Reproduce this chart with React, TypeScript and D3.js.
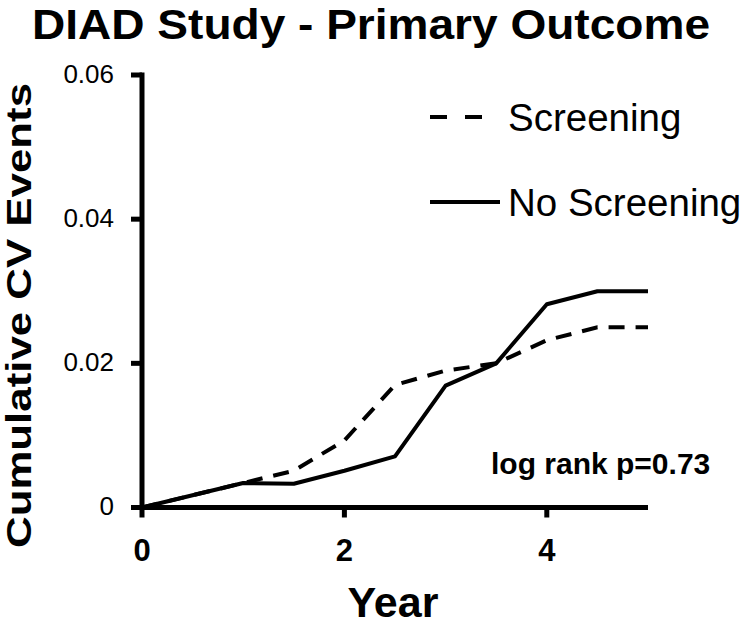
import React from 'react';
import * as d3 from 'd3';

const years = [0, 1, 1.5, 2, 2.5, 3, 3.5, 4, 4.5, 5];
const screening = [0, 0.0034, 0.0051, 0.0093, 0.017, 0.019, 0.02, 0.0232, 0.025, 0.025];
const noScreening = [0, 0.0034, 0.0033, 0.0051, 0.0071, 0.0169, 0.02, 0.0282, 0.03, 0.03];
const xTicks = [0, 2, 4];
const xTickLabels = ['0', '2', '4'];
const yTicks = [0, 0.02, 0.04, 0.06];
const yTickLabels = ['0', '0.02', '0.04', '0.06'];
const seriesNames = ['Screening', 'No Screening'];

const FONT = '"Liberation Sans", Arial, Helvetica, sans-serif';

export default function App() {
  const x = d3.scaleLinear().domain([0, 5]).range([142, 648]);
  const y = d3.scaleLinear().domain([0, 0.06]).range([507.5, 75]);
  const line = d3
    .line<number>()
    .x((_, i) => x(years[i]))
    .y((d) => y(d));

  return (
    <svg
      width={750}
      height={625}
      style={{ position: 'absolute', left: 0, top: 0, background: '#fff' }}
      fontFamily={FONT}
    >
      <rect x={0} y={0} width={750} height={625} fill="#fff" />
      <text x={32} y={38.5} fontSize={42} fontWeight="bold" textLength={678} lengthAdjust="spacingAndGlyphs">
        DIAD Study - Primary Outcome
      </text>

      {/* axes */}
      <line x1={x(0)} y1={y(0.06) - 2.5} x2={x(0)} y2={y(0) + 2.5} stroke="#000" strokeWidth={5} />
      <line x1={x(0) - 2.5} y1={y(0)} x2={x(5)} y2={y(0)} stroke="#000" strokeWidth={5} />
      {yTicks.map((t, i) => (
        <g key={'yt' + i}>
          <line x1={x(0) - 11} x2={x(0)} y1={y(t)} y2={y(t)} stroke="#000" strokeWidth={5} />
          <text x={114} y={y(t) + 7.5} fontSize={26} textAnchor="end">
            {yTickLabels[i]}
          </text>
        </g>
      ))}
      {xTicks.map((t, i) => (
        <g key={'xt' + i}>
          <line x1={x(t)} x2={x(t)} y1={y(0)} y2={y(0) + 10} stroke="#000" strokeWidth={5} />
          <text x={x(t)} y={561} fontSize={31} fontWeight="bold" textAnchor="middle">
            {xTickLabels[i]}
          </text>
        </g>
      ))}

      {/* series */}
      <path d={line(noScreening) || ''} fill="none" stroke="#000" strokeWidth={4} strokeLinejoin="round" />
      <path d={line(screening) || ''} fill="none" stroke="#000" strokeWidth={4} strokeDasharray="16,11" />

      {/* labels */}
      <text
        transform="translate(31,315.5) rotate(-90)"
        fontSize={35}
        fontWeight="bold"
        textAnchor="middle"
        textLength={465}
        lengthAdjust="spacingAndGlyphs"
      >
        Cumulative CV Events
      </text>
      <text x={393} y={617} fontSize={43} fontWeight="bold" textAnchor="middle">
        Year
      </text>
      <text x={491} y={474} fontSize={30} fontWeight="bold">
        log rank p=0.73
      </text>

      {/* legend */}
      <line x1={430} x2={483} y1={117} y2={117} stroke="#000" strokeWidth={4} strokeDasharray="17,18" />
      <text x={508} y={131} fontSize={38.5}>
        {seriesNames[0]}
      </text>
      <line x1={430} x2={500} y1={202} y2={202} stroke="#000" strokeWidth={4} />
      <text x={508} y={216} fontSize={38.5}>
        {seriesNames[1]}
      </text>
    </svg>
  );
}
